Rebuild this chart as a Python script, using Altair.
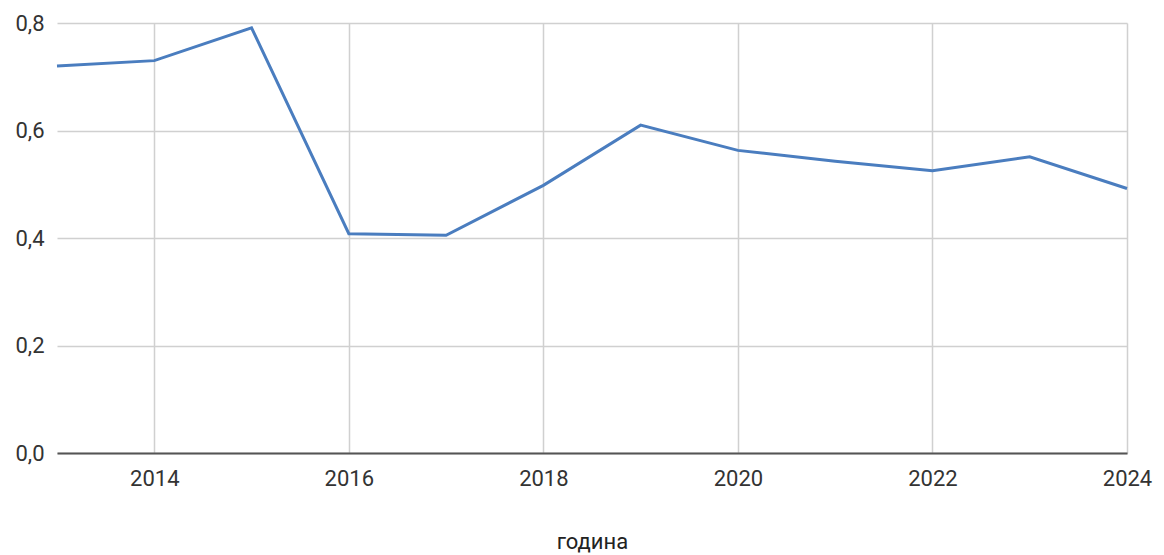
import altair as alt
import pandas as pd

years = [2013, 2014, 2015, 2016, 2017, 2018, 2019, 2020, 2021, 2022, 2023, 2024]
values = [0.720, 0.730, 0.791, 0.408, 0.405, 0.498, 0.610, 0.563, 0.543, 0.525, 0.551, 0.492]
x_ticks = [2014, 2016, 2018, 2020, 2022, 2024]
y_ticks = [0.0, 0.2, 0.4, 0.6, 0.8]

df = pd.DataFrame({"година": years, "value": values})

FONT = "Roboto"

chart = alt.Chart(df).mark_line(color="#4a7dbf", strokeWidth=3).encode(
    x=alt.X(
        "година:Q",
        scale=alt.Scale(domain=[2013, 2024], nice=False, zero=False),
        axis=alt.Axis(
            values=x_ticks,
            format="d",
            title="година",
            titleFont=FONT,
            titleFontSize=22,
            titleFontWeight="normal",
            titleColor="#222222",
            titleBaseline="alphabetic",
            titleY=95,
            labelFont=FONT,
            labelFontSize=22,
            labelColor="#333333",
            labelPadding=15,
            ticks=False,
            domainColor="#555555",
            domainWidth=2,
            grid=True,
            gridColor="#d0d0d0",
            gridWidth=1.5,
            labelFlush=False,
        ),
    ),
    y=alt.Y(
        "value:Q",
        scale=alt.Scale(domain=[0, 0.8], nice=False),
        axis=alt.Axis(
            values=y_ticks,
            title=None,
            labelExpr="replace(format(datum.value, '.1f'), '.', ',')",
            labelFont=FONT,
            labelFontSize=22,
            labelColor="#333333",
            labelPadding=13,
            ticks=False,
            domain=False,
            grid=True,
            gridColor="#d0d0d0",
            gridWidth=1.5,
        ),
    ),
).properties(
    width=1070,
    height=430,
    autosize=alt.AutoSizeParams(type="none"),
    padding={"left": 57, "top": 23, "right": 37, "bottom": 102},
    background="white",
).configure_view(stroke=None)

chart.save("out.html", embed_options={"renderer": "svg", "actions": False})
